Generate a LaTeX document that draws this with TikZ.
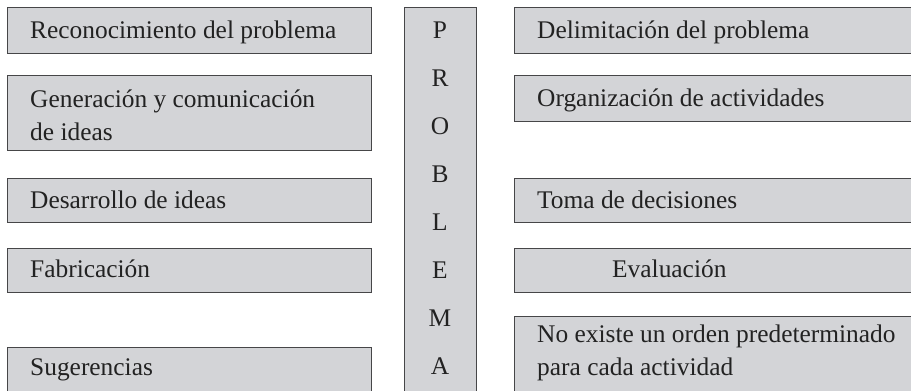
\documentclass[tikz,border=0pt]{standalone}
\usepackage{fontspec}
\setmainfont{Liberation Serif}
\definecolor{boxfill}{RGB}{211,212,215}
\definecolor{boxline}{RGB}{70,70,72}
\definecolor{txt}{RGB}{34,34,34}
\begin{document}
\begin{tikzpicture}[x=1pt,y=-1pt,
  box/.style={draw=boxline,fill=boxfill,line width=1.3pt,rectangle,anchor=north west,inner sep=0pt},
  lbl/.style={anchor=base west,inner sep=0pt,text=txt,align=left,font=\fontsize{25.4}{28}\selectfont},
  let/.style={anchor=base,inner sep=0pt,text=txt,font=\fontsize{25.4}{28}\selectfont}]
\useasboundingbox (0,0) rectangle (911,391);
\clip (0,0) rectangle (911,391);
% left column
\node[box,minimum width=364pt,minimum height=46pt] (l1) at (7,7) {};
\node[box,minimum width=364pt,minimum height=75pt] (l2) at (7,75) {};
\node[box,minimum width=364pt,minimum height=44pt] (l3) at (7,178) {};
\node[box,minimum width=364pt,minimum height=44pt] (l4) at (7,248) {};
\node[box,minimum width=364pt,minimum height=70pt] (l5) at (7,347) {};
% middle column
\node[box,minimum width=72pt,minimum height=410pt] (mid) at (404,7) {};
% right column
\node[box,minimum width=420pt,minimum height=46pt] (r1) at (514,7) {};
\node[box,minimum width=420pt,minimum height=46pt] (r2) at (514,75) {};
\node[box,minimum width=420pt,minimum height=44pt] (r3) at (514,178) {};
\node[box,minimum width=420pt,minimum height=44pt] (r4) at (514,248) {};
\node[box,minimum width=420pt,minimum height=100pt] (r5) at (514,316) {};
% texts
\node[lbl] (t1) at (30,38) {Reconocimiento del problema};
\node[lbl] (t2) at (30,140) {Generación y comunicación\\[5pt]de ideas};
\node[lbl] (t3) at (30,208) {Desarrollo de ideas};
\node[lbl] (t4) at (30,277) {Fabricación};
\node[lbl] (t5) at (30,375) {Sugerencias};
\node[lbl] (u1) at (537,38) {Delimitación del problema};
\node[lbl] (u2) at (537,106) {Organización de actividades};
\node[lbl] (u3) at (537,208) {Toma de decisiones};
\node[lbl] (u4) at (612,277) {Evaluación};
\node[lbl] (u5) at (537,375) {No existe un orden predeterminado\\[5pt]para cada actividad};
% PROBLEMA
\foreach \c [count=\i from 0] in {P,R,O,B,L,E,M,A}
  \node[let] (p\i) at (440,{38+48.1*\i}) {\c};
\end{tikzpicture}
\end{document}
